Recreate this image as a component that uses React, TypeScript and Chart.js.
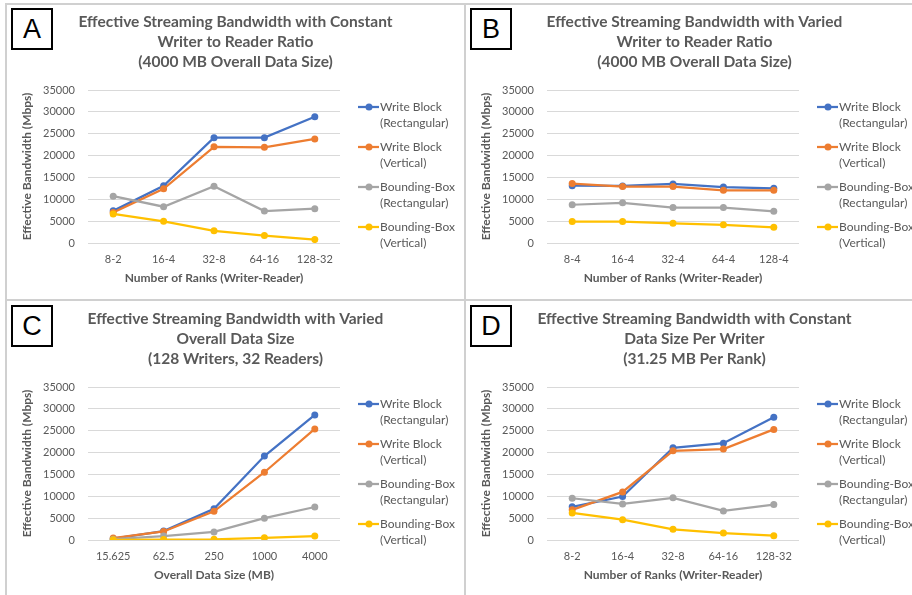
import React, { useEffect, useRef } from 'react';
import { Chart, registerables } from 'chart.js';

Chart.register(...registerables);

// ---------- data ----------
const ranksConstant = ['8-2', '16-4', '32-8', '64-16', '128-32'];
const ranksVaried = ['8-4', '16-4', '32-4', '64-4', '128-4'];
const dataSizes = ['15.625', '62.5', '250', '1000', '4000'];

const seriesNames = [
  'Write Block\n(Rectangular)',
  'Write Block\n(Vertical)',
  'Bounding-Box\n(Rectangular)',
  'Bounding-Box\n(Vertical)',
];
const seriesColors = ['#4472C4', '#ED7D31', '#A5A5A5', '#FFC000'];

// Panel A
const wbRectA = [7350, 13100, 24100, 24100, 28900];
const wbVertA = [7000, 12400, 22000, 21900, 23800];
const bbRectA = [10700, 8300, 13000, 7300, 7850];
const bbVertA = [6650, 4950, 2800, 1700, 780];

// Panel B
const wbRectB = [13100, 13050, 13500, 12800, 12500];
const wbVertB = [13600, 12900, 12900, 12050, 12050];
const bbRectB = [8750, 9200, 8100, 8100, 7250];
const bbVertB = [4900, 4900, 4500, 4150, 3600];

// Panel C
const wbRectC = [300, 2050, 7150, 19200, 28600];
const wbVertC = [450, 1950, 6550, 15500, 25400];
const bbRectC = [200, 900, 1850, 5000, 7550];
const bbVertC = [50, 100, 150, 500, 900];

// Panel D
const wbRectD = [7600, 9950, 21100, 22150, 28100];
const wbVertD = [6900, 11000, 20400, 20800, 25300];
const bbRectD = [9550, 8250, 9650, 6650, 8100];
const bbVertD = [6200, 4650, 2450, 1600, 1000];

const titleA = ['Effective Streaming Bandwidth with Constant', 'Writer to Reader Ratio', '(4000 MB Overall Data Size)'];
const titleB = ['Effective Streaming Bandwidth with Varied', 'Writer to Reader Ratio', '(4000 MB Overall Data Size)'];
const titleC = ['Effective Streaming Bandwidth with Varied', 'Overall Data Size', '(128 Writers, 32 Readers)'];
const titleD = ['Effective Streaming Bandwidth with Constant', 'Data Size Per Writer', '(31.25 MB Per Rank)'];

const xTitleRanks = 'Number of Ranks (Writer-Reader)';
const xTitleSize = 'Overall Data Size (MB)';
const yTitle = 'Effective Bandwidth (Mbps)';

const yMin = 0;
const yMax = 35000;
const yStep = 5000;

// ---------- styling ----------
const TEXT = '#595959';
const FONT = 'Lato, "Open Sans", sans-serif';
const CW = 459;
const CH = 297;

const excelLegend = {
  id: 'excelLegend',
  afterDraw(chart: any) {
    const { ctx, chartArea } = chart;
    const x0 = chartArea.right;
    ctx.save();
    chart.data.datasets.forEach((ds: any, i: number) => {
      const y = chartArea.top + 17 + i * 40;
      ctx.strokeStyle = ds.borderColor;
      ctx.lineWidth = 2.25;
      ctx.beginPath();
      ctx.moveTo(x0 + 18, y);
      ctx.lineTo(x0 + 39, y);
      ctx.stroke();
      ctx.fillStyle = ds.borderColor;
      ctx.beginPath();
      ctx.arc(x0 + 29, y, 3.5, 0, Math.PI * 2);
      ctx.fill();
      ctx.fillStyle = TEXT;
      ctx.font = `12px ${FONT}`;
      ctx.textBaseline = 'middle';
      ctx.textAlign = 'left';
      String(ds.label)
        .split('\n')
        .forEach((line: string, j: number) => ctx.fillText(line, x0 + 40, y + j * 16));
    });
    ctx.restore();
  },
};

type PanelProps = {
  left: number;
  top: number;
  letter: string;
  cats: string[];
  values: number[][];
  title: string[];
  xTitle: string;
};

function Panel({ left, top, letter, cats, values, title, xTitle }: PanelProps) {
  const ref = useRef<HTMLCanvasElement | null>(null);
  useEffect(() => {
    if (!ref.current) return;
    const chart = new Chart(ref.current, {
      type: 'line',
      data: {
        labels: cats,
        datasets: values.map((v, i) => ({
          label: seriesNames[i],
          data: v,
          yAxisID: 'y',
          borderColor: seriesColors[i],
          backgroundColor: seriesColors[i],
          pointBackgroundColor: seriesColors[i],
          pointBorderColor: seriesColors[i],
          borderWidth: 2.25,
          pointRadius: 3.5,
          pointBorderWidth: 0,
          tension: 0,
          fill: false,
          order: 3 - i,
        })),
      },
      options: {
        responsive: false,
        animation: false,
        maintainAspectRatio: false,
        layout: { padding: 0 },
        plugins: {
          legend: { display: false },
          tooltip: { enabled: false },
          title: {
            display: true,
            text: title,
            color: TEXT,
            font: { family: FONT, size: 15.5, weight: 'bold', lineHeight: '20px' },
            padding: { top: 9, bottom: 18 },
          },
        },
        scales: {
          x: {
            offset: true,
            grid: { display: false, drawTicks: false },
            border: { display: false },
            ticks: { color: TEXT, font: { family: FONT, size: 11 }, padding: 10, maxRotation: 0, autoSkip: false },
            title: {
              display: true,
              text: xTitle,
              color: TEXT,
              font: { family: FONT, size: 12, weight: 'bold' },
              padding: { top: 0, bottom: 15 },
            },
            afterFit: (s: any) => {
              s.height = 57;
            },
          },
          y: {
            min: yMin,
            max: yMax,
            grid: { color: '#d9d9d9', lineWidth: 1, drawTicks: false },
            border: { display: false },
            ticks: {
              stepSize: yStep,
              color: TEXT,
              font: { family: FONT, size: 11 },
              padding: 13,
              callback: (v: any) => String(v),
            },
            title: {
              display: true,
              text: yTitle,
              color: TEXT,
              font: { family: FONT, size: 12, weight: 'bold' },
              padding: { top: 14, bottom: 0 },
            },
            afterFit: (s: any) => {
              s.width = 82;
            },
          },
          legendSpace: {
            type: 'linear',
            position: 'right',
            display: true,
            grid: { display: false, drawTicks: false },
            border: { display: false },
            ticks: { display: false },
            afterFit: (s: any) => {
              s.width = CW - 334;
            },
          },
        },
      },
      plugins: [excelLegend],
    } as any);
    return () => chart.destroy();
  }, []);

  return (
    <>
      <canvas
        ref={ref}
        width={CW}
        height={CH}
        style={{ position: 'absolute', left, top, width: CW, height: CH }}
      />
      <div
        style={{
          position: 'absolute',
          left: left + 5,
          top: top + 5,
          width: 42,
          height: 42,
          boxSizing: 'border-box',
          border: '2px solid #000',
          background: '#fff',
          fontFamily: '"Liberation Sans", Arial, sans-serif',
          fontSize: 27,
          lineHeight: '38px',
          textAlign: 'center',
          color: '#000',
        }}
      >
        {letter}
      </div>
    </>
  );
}

const lineStyle = { position: 'absolute' as const, background: '#d0d0d0' };

export default function App() {
  return (
    <div
      style={{
        position: 'absolute',
        left: 0,
        top: 0,
        width: 912,
        height: 595,
        overflow: 'hidden',
        background: '#fff',
      }}
    >
      <Panel left={6} top={3} letter="A" cats={ranksConstant} values={[wbRectA, wbVertA, bbRectA, bbVertA]} title={titleA} xTitle={xTitleRanks} />
      <Panel left={465} top={3} letter="B" cats={ranksVaried} values={[wbRectB, wbVertB, bbRectB, bbVertB]} title={titleB} xTitle={xTitleRanks} />
      <Panel left={6} top={300} letter="C" cats={dataSizes} values={[wbRectC, wbVertC, bbRectC, bbVertC]} title={titleC} xTitle={xTitleSize} />
      <Panel left={465} top={300} letter="D" cats={ranksConstant} values={[wbRectD, wbVertD, bbRectD, bbVertD]} title={titleD} xTitle={xTitleRanks} />
      <div style={{ ...lineStyle, left: 5, top: 3, width: 907, height: 2 }} />
      <div style={{ ...lineStyle, left: 5, top: 3, width: 2, height: 592 }} />
      <div style={{ ...lineStyle, left: 464, top: 3, width: 2, height: 592 }} />
      <div style={{ ...lineStyle, left: 5, top: 299, width: 907, height: 2 }} />
    </div>
  );
}
